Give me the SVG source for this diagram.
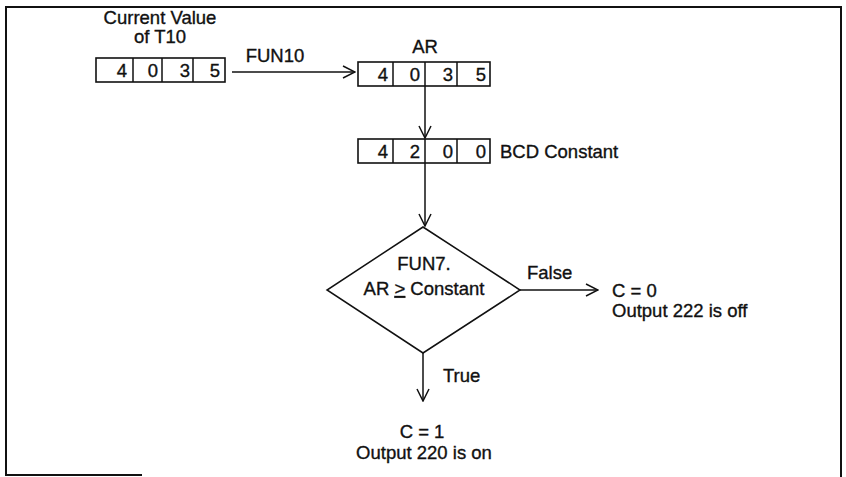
<svg xmlns="http://www.w3.org/2000/svg" width="846" height="477" viewBox="0 0 846 477">
<style>
text{font-family:"Liberation Sans",Arial,sans-serif;font-size:18.5px;fill:#111;stroke:#111;stroke-width:0.35}
.c{text-anchor:middle}
.e{text-anchor:end}
.box{fill:#fff;stroke:#111;stroke-width:1.6}
.ln{fill:none;stroke:#111;stroke-width:1.5}
.frame{fill:none;stroke:#111;stroke-width:2}
</style>
<defs>
<marker id="ah" viewBox="0 0 14 14" refX="13" refY="7" markerWidth="14" markerHeight="14" markerUnits="userSpaceOnUse" orient="auto">
<path d="M1,1 L13,7 L1,13" fill="none" stroke="#111" stroke-width="1.5"/>
</marker>
</defs>
<path class="frame" d="M6,476 V7 H841 V477"/>
<path class="frame" d="M6,475 H142"/>
<g id="t10">
<text class="c" x="160" y="24">Current Value</text>
<text class="c" x="160" y="43">of T10</text>
<rect class="box" x="96" y="58" width="129" height="24"/>
<path class="ln" d="M133,58V82M162,58V82M193,58V82"/>
<text class="e" x="127" y="77">4</text>
<text class="e" x="158" y="77">0</text>
<text class="e" x="190" y="77">3</text>
<text class="e" x="220" y="77">5</text>
</g>
<g id="ar">
<text class="c" x="425" y="53">AR</text>
<rect class="box" x="358" y="62" width="132" height="24"/>
<path class="ln" d="M393,62V86M425,62V86M457,62V86"/>
<text class="e" x="388" y="81">4</text>
<text class="e" x="420" y="81">0</text>
<text class="e" x="453" y="81">3</text>
<text class="e" x="486" y="81">5</text>
</g>
<g id="bcd">
<rect class="box" x="358" y="139" width="132" height="24"/>
<path class="ln" d="M393,139V163M425,139V163M457,139V163"/>
<text class="e" x="388" y="158">4</text>
<text class="e" x="420" y="158">2</text>
<text class="e" x="453" y="158">0</text>
<text class="e" x="486" y="158">0</text>
<text x="500" y="158">BCD Constant</text>
</g>
<g id="decision">
<polygon class="ln" points="423,227 520,290 423,353 327,290"/>
<text class="c" x="424" y="270">FUN7.</text>
<text class="c" x="424" y="295">AR <tspan text-decoration="underline">&gt;</tspan> Constant</text>
</g>
<g id="false">
<text x="612" y="297">C = 0</text>
<text x="612" y="317">Output 222 is off</text>
</g>
<g id="true">
<text class="c" x="422" y="438">C = 1</text>
<text class="c" x="424" y="459">Output 220 is on</text>
</g>
<g id="connectors">
<path class="ln" d="M232,72H355" marker-end="url(#ah)"/>
<text class="c" x="275" y="62">FUN10</text>
<path class="ln" d="M425,86V138" marker-end="url(#ah)"/>
<path class="ln" d="M425,163V226" marker-end="url(#ah)"/>
<path class="ln" d="M520,290H598" marker-end="url(#ah)"/>
<text x="527" y="279">False</text>
<path class="ln" d="M423,353V401" marker-end="url(#ah)"/>
<text x="443" y="382">True</text>
</g>
</svg>
